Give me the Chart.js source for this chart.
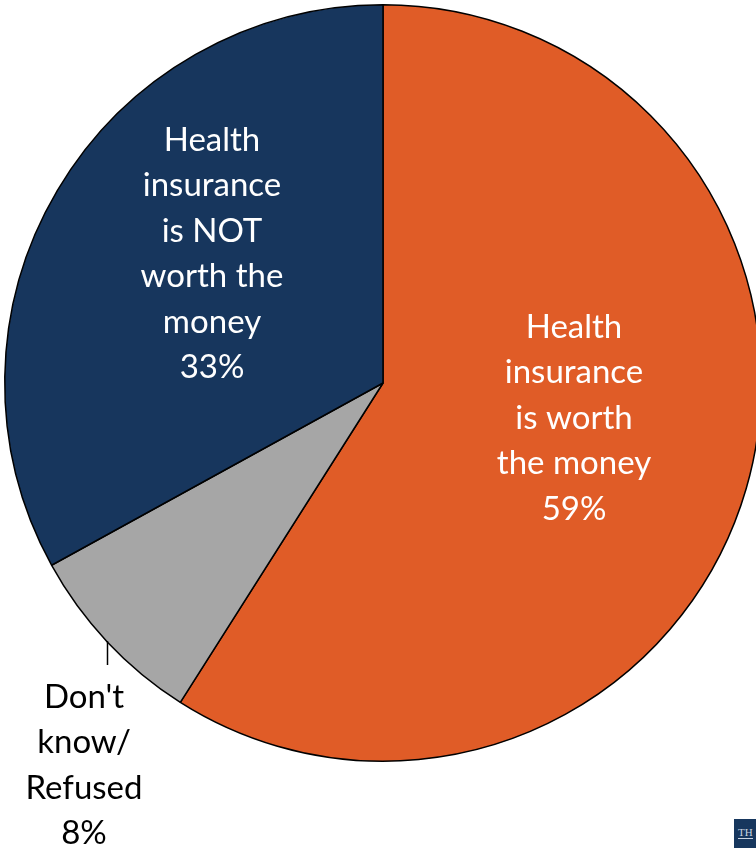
<!DOCTYPE html>
<html>
<head>
<meta charset="utf-8">
<script src="https://cdn.jsdelivr.net/npm/chart.js@4.4.0/dist/chart.umd.min.js"></script>
<style>
  html, body { margin: 0; padding: 0; background: #fff; overflow: hidden; width: 756px; height: 848px; }
  #wrap { position: absolute; left: 0; top: 0; }
  #logo { position: absolute; left: 734px; top: 819px; width: 30px; height: 30px; background: #17375e;
          color: #c9d3e0; font: 11px "Liberation Serif", serif; padding: 7px 0 0 4px; box-sizing: border-box; }
  #logo span { border-bottom: 1px solid #c9d3e0; }
</style>
</head>
<body>
<div id="wrap"><canvas id="myChart" width="766" height="848"></canvas></div>
<div id="logo"><span>TH</span></div>
<script>
var categories = ['Health insurance is worth the money', "Don't know/ Refused", 'Health insurance is NOT worth the money'];
var values = [59, 8, 33];
var colors = ['#e05c27', '#a6a6a6', '#17365d'];
var labelLines = [
  ['Health', 'insurance', 'is worth', 'the money', '59%'],
  ["Don't", 'know/', 'Refused', '8%'],
  ['Health', 'insurance', 'is NOT', 'worth the', 'money', '33%']
];

var labelPos = [
  { x: 574, y: 327, color: '#ffffff' },
  { x: 84, y: 697, color: '#000000' },
  { x: 212, y: 140, color: '#ffffff' }
];

var labelPlugin = {
  id: 'sliceLabels',
  afterDraw: function (chart) {
    var ctx = chart.ctx;
    ctx.save();
    ctx.font = '33px Lato, "Open Sans", sans-serif';
    ctx.textAlign = 'center';
    ctx.textBaseline = 'middle';
    for (var i = 0; i < labelLines.length; i++) {
      ctx.fillStyle = labelPos[i].color;
      for (var j = 0; j < labelLines[i].length; j++) {
        ctx.fillText(labelLines[i][j], labelPos[i].x, labelPos[i].y + j * 45.5);
      }
    }
    // leader line for the small slice
    ctx.strokeStyle = '#000';
    ctx.lineWidth = 1.5;
    ctx.beginPath();
    ctx.moveTo(107.5, 641);
    ctx.lineTo(107.5, 665);
    ctx.stroke();
    ctx.restore();
  }
};

var ctx = document.getElementById('myChart').getContext('2d');
new Chart(ctx, {
  type: 'pie',
  data: {
    labels: categories,
    datasets: [{
      data: values,
      backgroundColor: colors,
      borderColor: '#000000',
      borderWidth: 1.5,
      hoverOffset: 0,
      offset: 0
    }]
  },
  options: {
    responsive: false,
    animation: false,
    events: [],
    layout: { padding: { top: 4, left: 4, right: 4, bottom: 86 } },
    plugins: {
      legend: { display: false },
      tooltip: { enabled: false }
    }
  },
  plugins: [labelPlugin]
});
</script>
</body>
</html>
